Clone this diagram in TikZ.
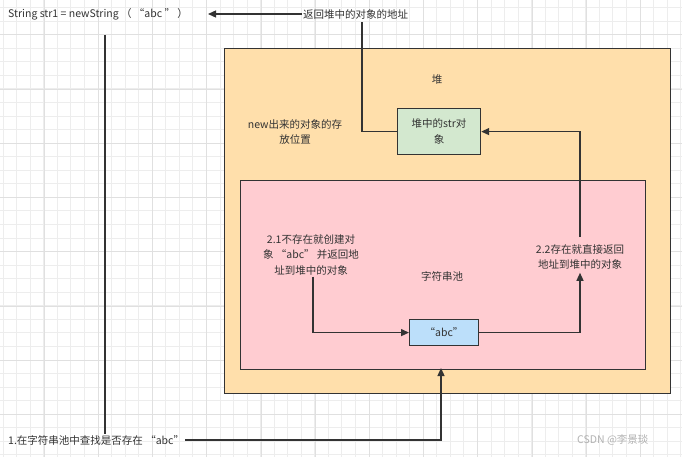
\documentclass[tikz,border=0pt]{standalone}
\usepackage{fontspec}
\setmainfont{Noto Sans CJK SC}
\usepackage{xcolor}
\definecolor{heapfill}{HTML}{FFDFAB}
\definecolor{poolfill}{HTML}{FFCCD1}
\definecolor{objfill}{HTML}{D3E8CF}
\definecolor{strfill}{HTML}{BCDFFA}
\definecolor{ink}{HTML}{333333}
\usetikzlibrary{arrows.meta,positioning,calc}

\begin{document}
\begin{tikzpicture}[
  x=1pt,
  y=-1pt,
  txt/.style={font=\fontsize{10.5}{15.5}\selectfont, text=ink, inner sep=1pt, align=center},
  region/.style={draw=ink, line width=1.2pt, anchor=north west},
  box/.style={draw=ink, line width=1.2pt, txt, anchor=north west, inner sep=0pt},
  gridline/.style={gray!14, line width=0.6pt},
  gridmajor/.style={gray!24, line width=0.6pt},
  link/.style={ink, line width=1.3pt},
  arrowlink/.style={link, -{Triangle[length=8pt, width=7pt]}},
]
\useasboundingbox (0,0) rectangle (682,457);

% Background grid
\fill[white] (0,0) rectangle (682,457);
\foreach \i in {0,...,50}
  \draw[gridline] (3+\i*13.55,0) -- (3+\i*13.55,457);
\foreach \j in {0,...,33}
  \draw[gridline] (0,7.5+\j*13.55) -- (682,7.5+\j*13.55);
\foreach \i in {0,...,12}
  \draw[gridmajor] (44+\i*54.2-54.2,0) -- (44+\i*54.2-54.2,457);
\foreach \j in {0,...,8}
  \draw[gridmajor] (0,89+\j*54.2-54.2) -- (682,89+\j*54.2-54.2);

% Heap and string pool
\node[region, fill=heapfill, minimum width=446, minimum height=345] (heap) at (224,48) {};
\node[region, fill=poolfill, minimum width=405, minimum height=189] (pool) at (240,180) {};

% Boxes
\node[box, fill=objfill, minimum width=83, minimum height=46] (obj) at (397,108) {堆中的str对\\象};
\node[box, fill=strfill, minimum width=69, minimum height=26] (abc) at (409,319) {“abc”};

% Labels
\node[txt, anchor=west] (code) at (7,14) {String str1 = newString （ “abc ” ）};
\node[txt, anchor=west] (ret) at (302,14) {返回堆中的对象的地址};
\node[txt] (heaplbl) at (437,80) {堆};
\node[txt] (newpos) at (295,132) {new出来的对象的存\\放位置};
\node[txt] (poollbl) at (442,276) {字符串池};
\node[txt] (t21) at (311,255) {2.1不存在就创建对\\象 “abc” 并返回地\\址到堆中的对象};
\node[txt] (t22) at (580,257) {2.2存在就直接返回\\地址到堆中的对象};
\node[txt, anchor=west] (step1) at (7,440) {1.在字符串池中查找是否存在 “abc”};
\node[txt, text=gray!60, anchor=west] (mark) at (576,440) {CSDN @李景琰};

\coordinate (codefoot) at (105,35);
\coordinate (retfoot) at (362,22);
\coordinate (heapin) at (441,368);

% Connectors
\draw[link] (codefoot) -- (step1.north -| codefoot);
\draw[arrowlink] (ret.west) -- ++(-94,0);
\draw[link] (obj.west) -| (retfoot);
\draw[arrowlink] (step1.east) -| (heapin);
\draw[arrowlink] (t21.south -| 313,0) |- (abc.west);
\draw[arrowlink] (abc.east) -| ([yshift=-2pt]t22.south);
\draw[arrowlink] ([yshift=6pt]t22.north) |- (obj.east);

\end{tikzpicture}
\end{document}
